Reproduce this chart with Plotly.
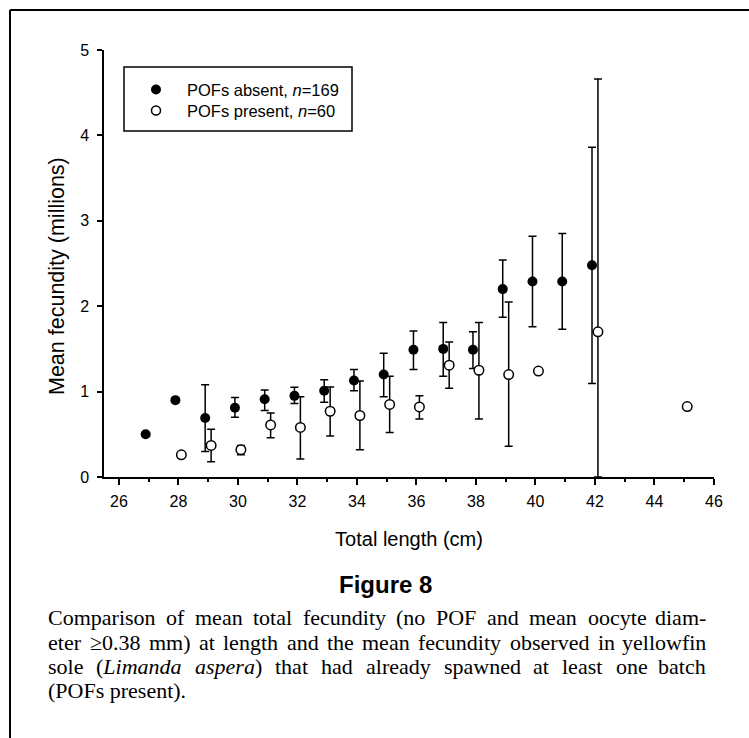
import re
import plotly.graph_objects as go

# Mean fecundity (millions) by total length class (cm)
absent_length = [27, 28, 29, 30, 31, 32, 33, 34, 35, 36, 37, 38, 39, 40, 41, 42]
absent_mean = [0.50, 0.90, 0.69, 0.81, 0.91, 0.95, 1.01, 1.13, 1.20, 1.49, 1.50, 1.49, 2.20, 2.29, 2.29, 2.48]
absent_upper = [None, None, 1.08, 0.93, 1.02, 1.05, 1.14, 1.26, 1.45, 1.71, 1.81, 1.70, 2.54, 2.82, 2.85, 3.86]
absent_lower = [None, None, 0.30, 0.70, 0.78, 0.86, 0.875, 1.01, 0.94, 1.26, 1.18, 1.27, 1.87, 1.76, 1.73, 1.095]

present_length = [28, 29, 30, 31, 32, 33, 34, 35, 36, 37, 38, 39, 40, 42, 45]
present_mean = [0.26, 0.37, 0.32, 0.61, 0.58, 0.77, 0.72, 0.85, 0.82, 1.31, 1.25, 1.20, 1.24, 1.70, 0.825]
present_upper = [None, 0.56, 0.37, 0.75, 0.94, 1.055, 1.125, 1.18, 0.95, 1.58, 1.81, 2.05, None, 4.66, None]
present_lower = [None, 0.18, 0.26, 0.46, 0.21, 0.48, 0.32, 0.52, 0.68, 1.04, 0.68, 0.36, None, 0.0, None]

x_ticks = [26, 28, 30, 32, 34, 36, 38, 40, 42, 44, 46]
y_ticks = [0, 1, 2, 3, 4, 5]

x_title = "Total length (cm)"
y_title = "Mean fecundity (millions)"
caption_title = "Figure 8"
caption_lines = [
    "Comparison of mean total fecundity (no POF and mean oocyte diam-",
    "eter ≥0.38 mm) at length and the mean fecundity observed in yellowfin",
    "sole (<i>Limanda aspera</i>) that had already spawned at least one batch",
    "(POFs present).",
]

W, H = 749, 738
ML, MR, MT, MB = 104, 35, 50, 261
PW, PH = W - ML - MR, H - MT - MB


def px(x):
    return (x - ML) / PW


def py(y):
    return (H - MB - y) / PH


def err_plus(mean, upper):
    return [None if u is None else u - m for m, u in zip(mean, upper)]


def err_minus(mean, lower):
    return [None if lo is None else m - lo for m, lo in zip(mean, lower)]


FONT = "Liberation Sans, Arial, sans-serif"
SERIF = "Liberation Serif, Times New Roman, serif"
DODGE = 0.1

fig = go.Figure()

err_style = dict(type="data", color="black", thickness=1.5, width=4, symmetric=False)

fig.add_trace(go.Scatter(
    x=[v - DODGE for v in absent_length], y=absent_mean, mode="markers",
    name="POFs absent, <i>n</i>=169",
    marker=dict(size=10, color="black", line=dict(width=0)),
    error_y=dict(array=err_plus(absent_mean, absent_upper),
                 arrayminus=err_minus(absent_mean, absent_lower), **err_style),
    showlegend=False, cliponaxis=False,
))

fig.add_trace(go.Scatter(
    x=[v + DODGE for v in present_length], y=present_mean, mode="markers",
    name="POFs present, <i>n</i>=60",
    marker=dict(size=9.5, color="white", line=dict(width=1.5, color="black")),
    error_y=dict(array=err_plus(present_mean, present_upper),
                 arrayminus=err_minus(present_mean, present_lower), **err_style),
    showlegend=False, cliponaxis=False,
))

shapes = []
annotations = []

# Legend box
lx0, ly0, lx1, ly1 = 124, 67, 352, 131
shapes.append(dict(type="rect", xref="paper", yref="paper",
                   x0=px(lx0), x1=px(lx1), y0=py(ly1), y1=py(ly0),
                   line=dict(color="black", width=1.5), fillcolor="white", layer="above"))
legend_rows = [
    (89.5, "black", fig.data[0].name),
    (110.5, "white", fig.data[1].name),
]
for yy, fill, label in legend_rows:
    r = 5 if fill == "black" else 4.5
    shapes.append(dict(type="circle", xref="paper", yref="paper",
                       xsizemode="pixel", ysizemode="pixel",
                       xanchor=px(156), yanchor=py(yy),
                       x0=-r, x1=r, y0=-r, y1=r, fillcolor=fill,
                       line=dict(color="black", width=1.5 if fill == "white" else 0),
                       layer="above"))
    annotations.append(dict(xref="paper", yref="paper", x=px(185), y=py(yy),
                            xanchor="left", yanchor="middle", showarrow=False,
                            text=label, font=dict(family=FONT, size=16.5, color="black")))

# Y-axis title
annotations.append(dict(xref="paper", yref="paper", x=px(57), y=py(276),
                        xanchor="center", yanchor="middle", showarrow=False,
                        textangle=-90, text=y_title,
                        font=dict(family=FONT, size=21.5, color="black")))

# Figure frame (top and left rules)
shapes.append(dict(type="line", xref="paper", yref="paper",
                   x0=px(10), x1=px(W + 5), y0=py(10), y1=py(10),
                   line=dict(color="black", width=2)))
shapes.append(dict(type="line", xref="paper", yref="paper",
                   x0=px(10), x1=px(10), y0=py(10), y1=py(H + 5),
                   line=dict(color="black", width=2)))

# Caption heading
annotations.append(dict(xref="paper", yref="paper", x=px(385), y=py(584),
                        xanchor="center", yanchor="middle", showarrow=False,
                        text="<b>%s</b>" % caption_title,
                        font=dict(family=FONT, size=24, color="black")))

# Times-style advance widths (per 1000 em) used to justify the caption body
ROMAN = dict(a=444, b=500, c=444, d=500, e=444, f=333, g=500, h=500, i=278, j=278,
             k=500, l=278, m=778, n=500, o=500, p=500, q=500, r=333, s=389, t=278,
             u=500, v=500, w=722, x=500, y=500, z=444, C=667, O=722, P=556, F=556,
             L=611)
ROMAN.update({"(": 333, ")": 333, "-": 333, ".": 250, " ": 250, "≥": 549})
ROMAN.update({str(d): 500 for d in range(10)})
ITALIC = dict(ROMAN)
ITALIC.update(dict(L=556, m=722, a=500, n=500, d=500, s=389, p=500, e=444, r=389, i=278))

CAP_SIZE = 22
CAP_LEFT, CAP_RIGHT = 47, 707
caption_y = [617, 642, 666, 690]


def split_words(line):
    italic = False
    words = []
    for raw in line.split(" "):
        runs, cur = [], ""
        for tok in re.split(r"(<i>|</i>)", raw):
            if tok in ("<i>", "</i>"):
                if cur:
                    runs.append((cur, italic))
                    cur = ""
                italic = tok == "<i>"
            else:
                cur += tok
        if cur:
            runs.append((cur, italic))
        words.append(runs)
    return words


def runs_markup(runs):
    return "".join("<i>%s</i>" % t if it else t for t, it in runs)


def runs_width(runs):
    total = 0
    for t, it in runs:
        table = ITALIC if it else ROMAN
        total += sum(table.get(ch, 500) for ch in t)
    return total * CAP_SIZE / 1000.0


cap_font = dict(family=SERIF, size=CAP_SIZE, color="black")
for idx, (line, yy) in enumerate(zip(caption_lines, caption_y)):
    if idx == len(caption_lines) - 1:
        annotations.append(dict(xref="paper", yref="paper", x=px(CAP_LEFT), y=py(yy),
                                xanchor="left", yanchor="middle", showarrow=False,
                                text=line, font=cap_font, borderpad=0))
        continue
    words = split_words(line)
    widths = [runs_width(w) for w in words]
    gap = (CAP_RIGHT - CAP_LEFT - sum(widths)) / (len(words) - 1)
    xpos = CAP_LEFT
    for k, (w, wd) in enumerate(zip(words, widths)):
        last_word = k == len(words) - 1
        annotations.append(dict(xref="paper", yref="paper",
                                x=px(CAP_RIGHT if last_word else xpos), y=py(yy),
                                xanchor="right" if last_word else "left",
                                yanchor="middle", showarrow=False,
                                text=runs_markup(w), font=cap_font, borderpad=0))
        xpos += wd + gap

fig.update_layout(
    width=W, height=H,
    margin=dict(l=ML, r=MR, t=MT, b=MB, pad=0),
    paper_bgcolor="white", plot_bgcolor="white",
    font=dict(family=FONT, color="black"),
    showlegend=False,
    shapes=shapes, annotations=annotations,
    xaxis=dict(
        range=[25.5, 46], tickmode="array", tickvals=x_ticks,
        ticktext=[str(t) for t in x_ticks],
        showgrid=False, zeroline=False, showline=True, linecolor="black", linewidth=1.5,
        ticks="outside", ticklen=6, tickwidth=1.5, tickcolor="black",
        tickfont=dict(family=FONT, size=16, color="black"), ticklabelstandoff=3,
        minor=dict(tickvals=list(range(27, 46, 2)), ticks="outside", ticklen=3,
                   tickwidth=1.5, tickcolor="black", showgrid=False),
        title=dict(text=x_title, standoff=23,
                   font=dict(family=FONT, size=20, color="black")),
    ),
    yaxis=dict(
        range=[0, 5], tickmode="array", tickvals=y_ticks,
        ticktext=[str(t) for t in y_ticks],
        showgrid=False, zeroline=False, showline=True, linecolor="black", linewidth=1.5,
        ticks="outside", ticklen=5, tickwidth=1.5, tickcolor="black",
        tickfont=dict(family=FONT, size=16, color="black"), ticklabelstandoff=5,
    ),
)

fig.write_html("out.html")
